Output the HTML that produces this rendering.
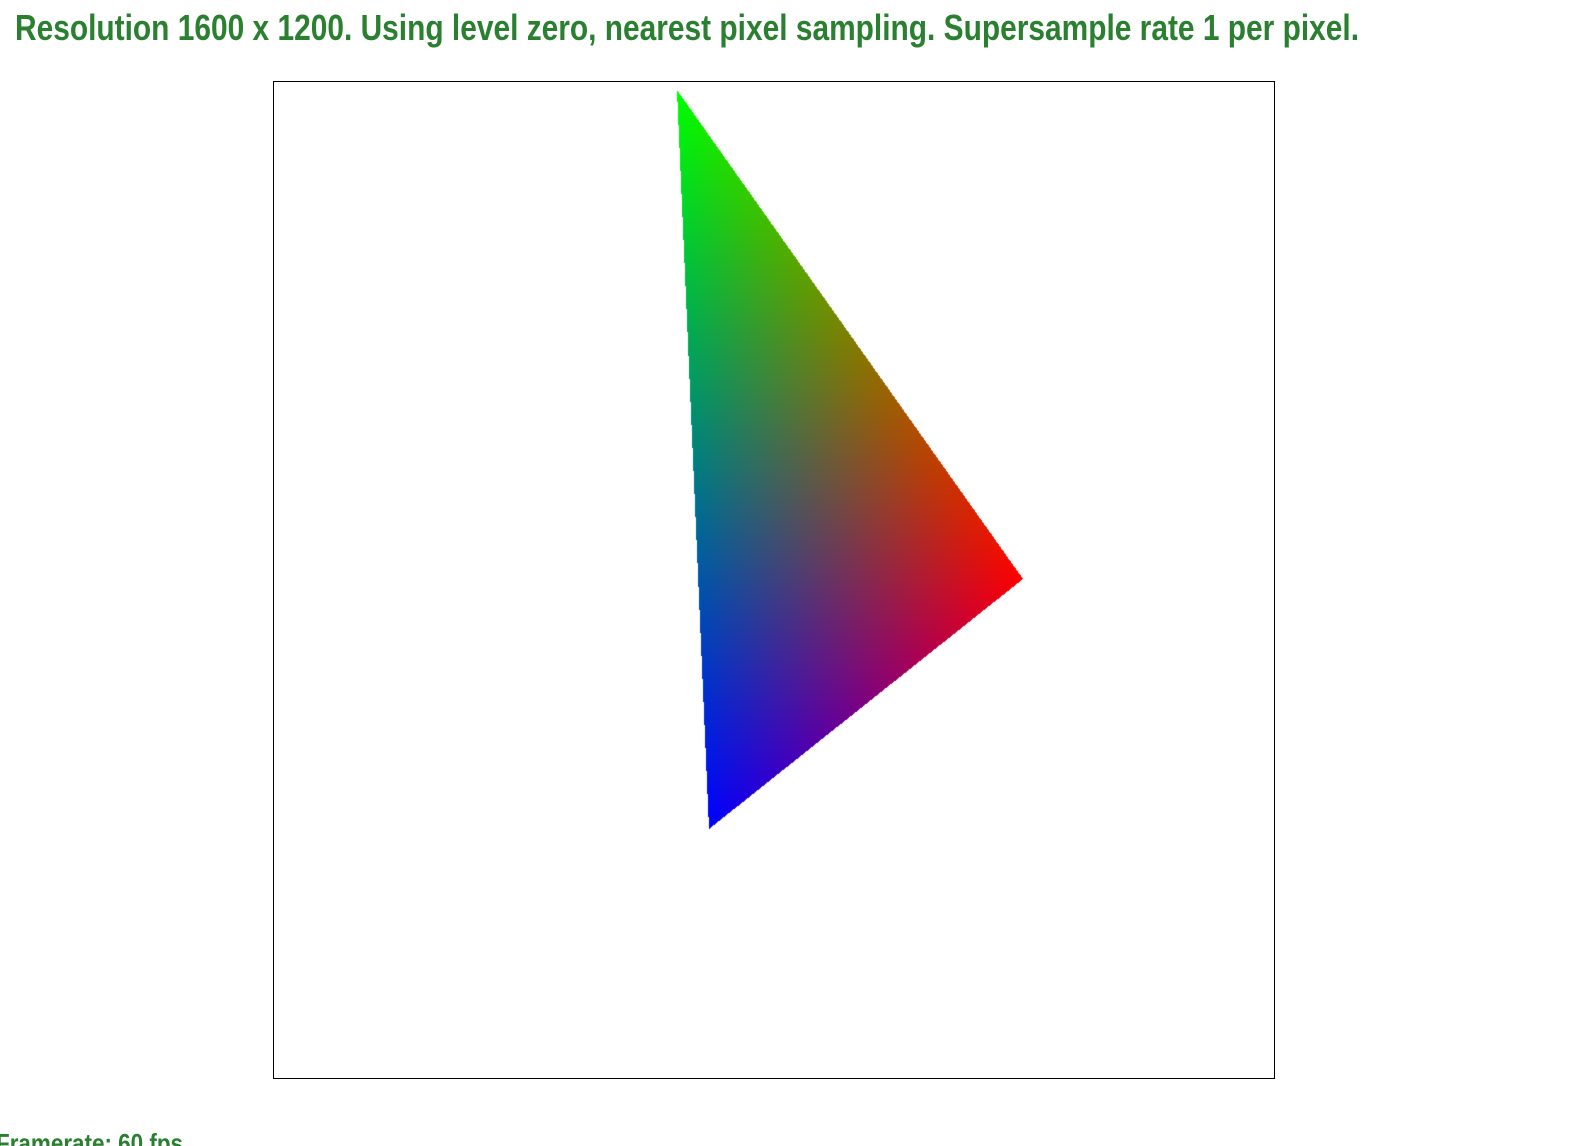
<!DOCTYPE html>
<html>
<head>
<meta charset="utf-8">
<style>
  html,body{margin:0;padding:0;background:#fff;width:1570px;height:1146px;overflow:hidden;position:relative;}
  svg.txt{position:absolute;left:0;top:0;}
  #frame{position:absolute;left:273px;top:81px;width:1000px;height:996px;border:1px solid #000;}
  #tri{position:absolute;left:0;top:0;}
</style>
</head>
<body>
<svg class="txt" width="1570" height="1146">
  <text x="15" y="40" font-family="'Liberation Sans Narrow','Liberation Sans',sans-serif" font-weight="bold" font-size="36" fill="#2a8030" textLength="1344" lengthAdjust="spacingAndGlyphs">Resolution 1600 x 1200. Using level zero, nearest pixel sampling. Supersample rate 1 per pixel.</text>
  <text x="-4" y="1152" font-family="'Liberation Sans Narrow','Liberation Sans',sans-serif" font-weight="bold" font-size="26" fill="#2a8030" textLength="187" lengthAdjust="spacingAndGlyphs">Framerate: 60 fps</text>
</svg>
<div id="frame"></div>
<canvas id="tri" width="1570" height="1146"></canvas>
<script>
// vertex data (pixel coords of the rendered scene) and vertex colors
const vertexX = [677, 1023, 709];
const vertexY = [90, 579, 829];
const vertexR = [0, 255, 0];
const vertexG = [255, 0, 0];
const vertexB = [0, 0, 255];

(function(){
  const c = document.getElementById('tri');
  const ctx = c.getContext('2d');
  const W = c.width, H = c.height;
  const img = ctx.createImageData(W, H);
  const d = img.data;
  const [x0,x1,x2] = vertexX, [y0,y1,y2] = vertexY;
  const den = (y1-y2)*(x0-x2) + (x2-x1)*(y0-y2);
  const minX = Math.floor(Math.min(x0,x1,x2)), maxX = Math.ceil(Math.max(x0,x1,x2));
  const minY = Math.floor(Math.min(y0,y1,y2)), maxY = Math.ceil(Math.max(y0,y1,y2));
  for (let y = minY; y <= maxY; y++) {
    for (let x = minX; x <= maxX; x++) {
      const px = x + 0.5, py = y + 0.5;
      const a = ((y1-y2)*(px-x2) + (x2-x1)*(py-y2)) / den;
      const b = ((y2-y0)*(px-x2) + (x0-x2)*(py-y2)) / den;
      const g = 1 - a - b;
      if (a < 0 || b < 0 || g < 0) continue;
      const i = (y*W + x) * 4;
      d[i]   = a*vertexR[0] + b*vertexR[1] + g*vertexR[2];
      d[i+1] = a*vertexG[0] + b*vertexG[1] + g*vertexG[2];
      d[i+2] = a*vertexB[0] + b*vertexB[1] + g*vertexB[2];
      d[i+3] = 255;
    }
  }
  ctx.putImageData(img, 0, 0);
})();
</script>
</body>
</html>
